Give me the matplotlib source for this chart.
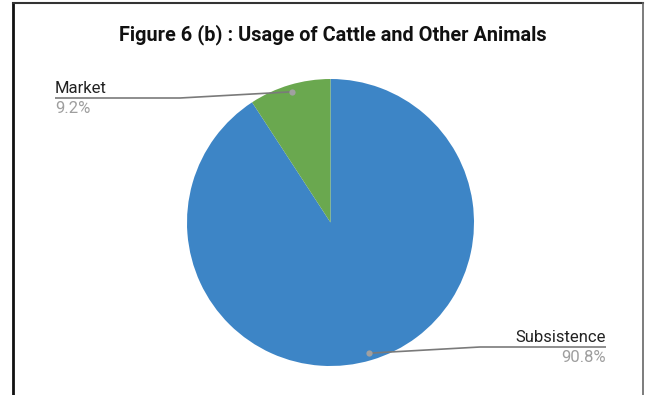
import numpy as np
import matplotlib.pyplot as plt
from matplotlib.lines import Line2D

plt.rcParams['font.family'] = ['Roboto', 'DejaVu Sans']

# Usage shares
labels = ['Subsistence', 'Market']
shares = [90.8, 9.2]
colors = ['#3d85c6', '#6aa84f']

W, H = 649, 395
fig = plt.figure(figsize=(W / 100, H / 100), dpi=100)
ax = fig.add_axes([0, 0, 1, 1])

cx, cy, r = 330.5, H - 222.5, 143.5
wedges, _ = ax.pie(shares, colors=colors, startangle=90, counterclock=False,
                   radius=r, center=(cx, cy), frame=True,
                   wedgeprops=dict(linewidth=0))
ax.set_xlim(0, W)
ax.set_ylim(0, H)
ax.set_aspect('equal')
ax.axis('off')

# Leader lines with label + percentage
label_pos = {
    'Market': dict(xh=180, xe=55, y=H - 98, ha='left'),
    'Subsistence': dict(xh=480, xe=606, y=H - 347, ha='right'),
}
for w, name, val in zip(wedges, labels, shares):
    mid = np.deg2rad((w.theta1 + w.theta2) / 2)
    px = cx + 0.95 * r * np.cos(mid)
    py = cy + 0.95 * r * np.sin(mid)
    lp = label_pos[name]
    ax.plot([px, lp['xh'], lp['xe']], [py, lp['y'], lp['y']],
            color='#7a7a7a', lw=1.2, solid_capstyle='butt')
    ax.plot(px, py, 'o', color='#a0a0a0', ms=4.5, mec='none')
    ax.text(lp['xe'], lp['y'] + 2, name, ha=lp['ha'], va='bottom',
            fontsize=12, color='#222222')
    ax.text(lp['xe'], lp['y'] - 3, f'{val}%', ha=lp['ha'], va='top',
            fontsize=12, color='#9e9e9e')

ax.text(333, H - 35, 'Figure 6 (b) : Usage of Cattle and Other Animals',
        ha='center', va='center', fontsize=14.3, fontweight='bold', color='#111111')

# Frame around the chart
fig.add_artist(Line2D([13, 13], [0, H - 3], transform=None, color='#111111', lw=2))
fig.add_artist(Line2D([13, 643], [H - 3, H - 3], transform=None, color='#333333', lw=1.5))
fig.add_artist(Line2D([643, 643], [0, H - 3], transform=None, color='#666666', lw=1.2))

fig.savefig('out.png', dpi=100)
